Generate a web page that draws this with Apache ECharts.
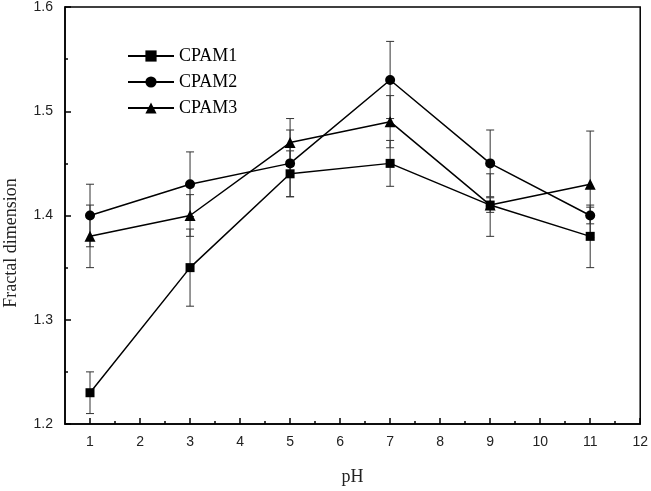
<!DOCTYPE html>
<html>
<head>
<meta charset="utf-8">
<script src="https://cdn.jsdelivr.net/npm/echarts@6/dist/echarts.min.js"></script>
<style>html,body{margin:0;padding:0;background:#fff}#c{width:651px;height:491px}</style>
</head>
<body>
<div id="c"></div>
<script>
var phValues = [1, 3, 5, 7, 9, 11];
var cpam1 = [1.23, 1.35, 1.44, 1.45, 1.41, 1.38];
var cpam2 = [1.40, 1.43, 1.45, 1.53, 1.45, 1.40];
var cpam3 = [1.38, 1.40, 1.47, 1.49, 1.41, 1.43];
var err1 = [0.02, 0.037, 0.022, 0.022, 0.03, 0.03];
var err2 = [0.03, 0.031, 0.032, 0.037, 0.032, 0.008];
var err3 = [0.03, 0.02, 0.023, 0.025, 0.007, 0.051];
var xTickLabels = [1, 2, 3, 4, 5, 6, 7, 8, 9, 10, 11, 12];
var xMinorTicks = [1.5, 2.5, 3.5, 4.5, 5.5, 6.5, 7.5, 8.5, 9.5, 10.5, 11.5];
var seriesNames = ['CPAM1', 'CPAM2', 'CPAM3'];

function pairs(vals) { return phValues.map(function (x, i) { return [x, vals[i]]; }); }
function errData(vals, errs) { return phValues.map(function (x, i) { return [x, vals[i] - errs[i], vals[i] + errs[i]]; }); }

function errSeries(vals, errs) {
  return {
    type: 'custom',
    silent: true,
    z: 1,
    data: errData(vals, errs),
    renderItem: function (params, api) {
      var lo = api.coord([api.value(0), api.value(1)]);
      var hi = api.coord([api.value(0), api.value(2)]);
      var hw = 4;
      var st = { stroke: '#333', lineWidth: 1 };
      return {
        type: 'group',
        children: [
          { type: 'line', shape: { x1: lo[0], y1: lo[1], x2: hi[0], y2: hi[1] }, style: st },
          { type: 'line', shape: { x1: lo[0] - hw, y1: lo[1], x2: lo[0] + hw, y2: lo[1] }, style: st },
          { type: 'line', shape: { x1: hi[0] - hw, y1: hi[1], x2: hi[0] + hw, y2: hi[1] }, style: st }
        ]
      };
    }
  };
}

function lineSeries(name, vals, symbol, size) {
  return {
    name: name, type: 'line', data: pairs(vals), symbol: symbol, symbolSize: size,
    z: 3,
    lineStyle: { color: '#000', width: 1.5 },
    itemStyle: { color: '#000' },
    emphasis: { disabled: true }
  };
}

var chart = echarts.init(document.getElementById('c'), null, { renderer: 'canvas' });
var labelFont = { fontFamily: 'Liberation Sans, Arial, sans-serif', fontSize: 14, color: '#222' };
chart.setOption({
  animation: false,
  backgroundColor: '#fff',
  grid: { left: 65, right: 9, top: 7, bottom: 62, show: true, borderColor: '#000', borderWidth: 1.5, backgroundColor: 'transparent' },
  legend: {
    data: seriesNames,
    orient: 'vertical',
    left: 122, top: 42,
    itemWidth: 46, itemHeight: 14, itemGap: 8,
    textStyle: { fontFamily: 'Liberation Serif, Times New Roman, serif', fontSize: 18, color: '#000' }
  },
  xAxis: [{
    type: 'value', min: 0.5, max: 12,
    name: 'pH', nameLocation: 'middle', nameGap: 44,
    nameTextStyle: { fontFamily: 'Liberation Serif, Times New Roman, serif', fontSize: 18, color: '#222' },
    axisLine: { show: true, onZero: false, lineStyle: { color: '#000', width: 1.5 } },
    axisTick: { show: true, inside: true, length: 6, customValues: xTickLabels, lineStyle: { color: '#000', width: 1.5 } },
    axisLabel: Object.assign({ margin: 11, customValues: xTickLabels, formatter: function (v) { return String(v); } }, labelFont),
    splitLine: { show: false }
  }, {
    type: 'value', min: 0.5, max: 12, position: 'bottom',
    axisLine: { show: false },
    axisTick: { show: true, inside: true, length: 3, customValues: xMinorTicks, lineStyle: { color: '#000', width: 1.5 } },
    axisLabel: { show: false },
    splitLine: { show: false }
  }],
  yAxis: {
    type: 'value', min: 1.2, max: 1.6, interval: 0.1,
    axisLine: { show: true, onZero: false, lineStyle: { color: '#000', width: 1.5 } },
    axisTick: { show: true, inside: true, length: 6, lineStyle: { color: '#000', width: 1.5 } },
    minorTick: { show: true, splitNumber: 2, length: 3, lineStyle: { color: '#000', width: 1.5 } },
    axisLabel: Object.assign({ margin: 12, formatter: function (v) { return v.toFixed(1); } }, labelFont),
    splitLine: { show: false }
  },
  graphic: [{
    type: 'text', rotation: Math.PI / 2,
    x: 2, y: 243,
    style: { text: 'Fractal dimension', fontFamily: 'Liberation Serif, Times New Roman, serif', fontSize: 18, fill: '#222', textAlign: 'center', textVerticalAlign: 'top' }
  }],
  series: [
    errSeries(cpam1, err1), errSeries(cpam2, err2), errSeries(cpam3, err3),
    lineSeries('CPAM1', cpam1, 'rect', 9),
    lineSeries('CPAM2', cpam2, 'circle', 10),
    lineSeries('CPAM3', cpam3, 'triangle', 11)
  ]
});
</script>
</body>
</html>
